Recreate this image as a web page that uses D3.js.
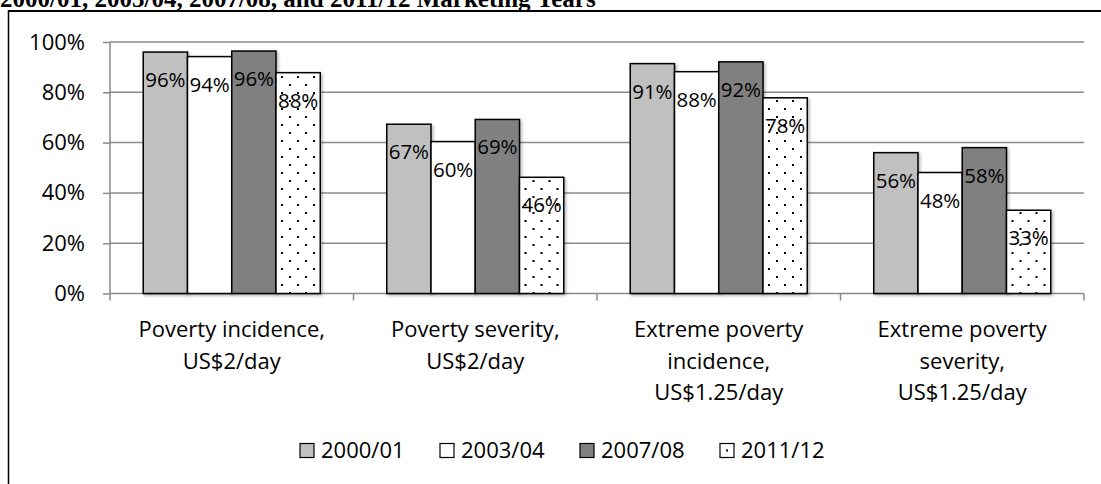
<!DOCTYPE html>
<html>
<head>
<meta charset="utf-8">
<script src="https://cdn.jsdelivr.net/npm/d3@7"></script>
<style>
  html, body { margin: 0; padding: 0; background: #fff; }
  svg { display: block; }
</style>
</head>
<body>
<svg id="chart" width="1101" height="484"></svg>
<script>
// ---- data ----
const categories = [
  ["Poverty incidence,", "US$2/day"],
  ["Poverty severity,", "US$2/day"],
  ["Extreme poverty", "incidence,", "US$1.25/day"],
  ["Extreme poverty", "severity,", "US$1.25/day"]
];
const seriesNames = ["2000/01", "2003/04", "2007/08", "2011/12"];
const s2000 = [96.0, 67.3, 91.4, 56.0];
const s2003 = [94.2, 60.4, 88.2, 48.1];
const s2007 = [96.4, 69.2, 92.1, 58.0];
const s2011 = [87.8, 46.2, 77.8, 33.1];
const yTicks = [0, 20, 40, 60, 80, 100];
const titleText = "2000/01, 2003/04, 2007/08, and 2011/12 Marketing Years";

(function () {
const seriesValues = [s2000, s2003, s2007, s2011];
const fills = ["#c0c0c0", "#ffffff", "#808080", "url(#dots)"];
const legendFills = ["#c0c0c0", "#ffffff", "#808080", "url(#dot1)"];

const svg = d3.select("#chart");
const defs = svg.append("defs");
const pat = defs.append("pattern").attr("id", "dots").attr("patternUnits", "userSpaceOnUse")
  .attr("width", 16).attr("height", 16);
pat.append("rect").attr("width", 16).attr("height", 16).attr("fill", "#fff");
pat.append("rect").attr("x", 3).attr("y", 4).attr("width", 2).attr("height", 2).attr("fill", "#000");
pat.append("rect").attr("x", 11).attr("y", 12).attr("width", 2).attr("height", 2).attr("fill", "#000");
const p1 = defs.append("pattern").attr("id", "dot1").attr("patternUnits", "objectBoundingBox")
  .attr("width", 1).attr("height", 1);
p1.append("rect").attr("width", 14).attr("height", 14).attr("fill", "#fff");
p1.append("rect").attr("x", 6).attr("y", 6).attr("width", 2).attr("height", 2).attr("fill", "#000");
const flt = defs.append("filter").attr("id", "shadow").attr("x", "-20%").attr("y", "-20%").attr("width", "140%").attr("height", "140%");
flt.append("feDropShadow").attr("dx", 1.5).attr("dy", 1.5).attr("stdDeviation", 1.5).attr("flood-color", "#000").attr("flood-opacity", 0.3);

// ---- frame + title ----
svg.append("text").attr("x", 0).attr("y", 7)
  .attr("font-family", "'Liberation Serif', serif").attr("font-weight", "bold")
  .attr("font-size", "25px").attr("fill", "#000").text(titleText);
svg.append("line").attr("x1", 8).attr("x2", 1101).attr("y1", 11).attr("y2", 11)
  .attr("stroke", "#000").attr("stroke-width", 2);
svg.append("line").attr("x1", 8.5).attr("x2", 8.5).attr("y1", 10).attr("y2", 484)
  .attr("stroke", "#000").attr("stroke-width", 1.5);

// ---- scales ----
const pLeft = 110, pRight = 1084, pTop = 42, pBottom = 293.5;
const x0 = d3.scaleBand().domain(d3.range(categories.length)).range([pLeft, pRight]).padding(0);
const x1 = d3.scaleBand().domain(d3.range(seriesNames.length))
  .range([33.25, x0.bandwidth() - 33.25]).padding(0);
const y = d3.scaleLinear().domain([0, 100]).range([pBottom, pTop]);

const font = "'Open Sans', sans-serif";
const grid = "#8a8a8a";

// gridlines
svg.append("g").selectAll("line").data(yTicks.filter(d => d > 0)).join("line")
  .attr("x1", pLeft).attr("x2", pRight)
  .attr("y1", d => y(d)).attr("y2", d => y(d))
  .attr("stroke", grid).attr("stroke-width", 1.5);

// y axis
const yAxis = svg.append("g").attr("transform", `translate(${pLeft},0)`)
  .call(d3.axisLeft(y).tickValues(yTicks).tickSize(7).tickPadding(18).tickFormat(d => d + "%"));
yAxis.select(".domain").attr("stroke", grid).attr("stroke-width", 1.5).attr("d", `M0,${pTop}V${pBottom}`);
yAxis.selectAll(".tick line").attr("stroke", grid).attr("stroke-width", 1.5);
yAxis.selectAll(".tick text").attr("font-family", font).attr("font-size", "22px").attr("fill", "#000");

// x axis line & boundary ticks
const xAxis = svg.append("g").attr("transform", `translate(0,${pBottom})`)
  .call(d3.axisBottom(x0).tickSize(0).tickFormat(""));
xAxis.select(".domain").attr("stroke", grid).attr("stroke-width", 1.5).attr("d", `M${pLeft},0H${pRight}`);
const bounds = d3.range(categories.length + 1).map(i => i < categories.length ? x0(i) : x0(i - 1) + x0.bandwidth());
xAxis.selectAll(".bt").data(bounds).join("line").attr("class", "bt")
  .attr("x1", d => d).attr("x2", d => d).attr("y1", 0).attr("y2", 7)
  .attr("stroke", grid).attr("stroke-width", 1.5);

// bars
const groups = svg.append("g").selectAll("g").data(categories).join("g")
  .attr("transform", (d, i) => `translate(${x0(i)},0)`);
groups.each(function(c, ci) {
  const g = d3.select(this);
  seriesValues.forEach((vals, si) => {
    g.append("rect")
      .attr("x", x1(si)).attr("width", x1.bandwidth())
      .attr("y", y(vals[ci])).attr("height", y(0) - y(vals[ci]))
      .attr("fill", fills[si]).attr("stroke", "#000").attr("stroke-width", 1.5)
      .attr("filter", "url(#shadow)");
  });
  seriesValues.forEach((vals, si) => {
    g.append("text")
      .attr("x", x1(si) + x1.bandwidth() / 2).attr("y", y(vals[ci]) + 35)
      .attr("text-anchor", "middle").attr("font-family", font).attr("font-size", "20.5px")
      .attr("fill", "#000").text(Math.round(vals[ci]) + "%");
  });
  const t = g.append("text").attr("text-anchor", "middle").attr("font-family", font)
    .attr("font-size", "22px").attr("fill", "#000");
  c.forEach((line, li) => {
    t.append("tspan").attr("x", x0.bandwidth() / 2).attr("y", 337 + li * 31.5).text(line);
  });
});

// legend
const legend = svg.append("g").attr("transform", "translate(300,443.5)");
const items = legend.selectAll("g").data(seriesNames).join("g")
  .attr("transform", (d, i) => `translate(${i * 140},0)`);
items.append("rect").attr("width", 14).attr("height", 14)
  .attr("fill", (d, i) => legendFills[i]).attr("stroke", "#000").attr("stroke-width", 1.2);
items.append("text").attr("x", 21).attr("y", 14.5)
  .attr("font-family", font).attr("font-size", "22px").attr("fill", "#000").text(d => d);
})();
</script>
</body>
</html>
